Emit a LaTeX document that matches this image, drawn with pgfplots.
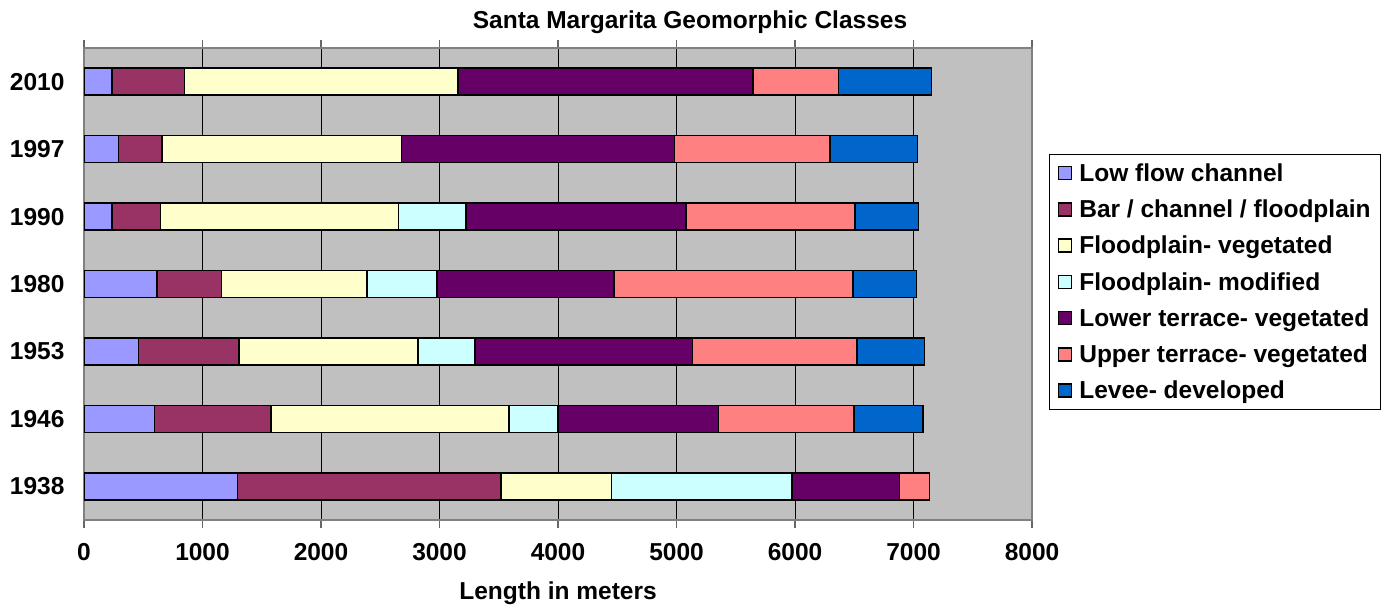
\documentclass[border=0pt]{standalone}
\usepackage{fontspec}
\setmainfont{Liberation Sans}
\usepackage{pgfplots}
\usepackage{pgfplotstable}
\pgfplotsset{compat=1.18}

\definecolor{lowflow}{HTML}{9999FF}
\definecolor{barch}{HTML}{993366}
\definecolor{fpveg}{HTML}{FFFFCC}
\definecolor{fpmod}{HTML}{CCFFFF}
\definecolor{lowter}{HTML}{660066}
\definecolor{upter}{HTML}{FF8080}
\definecolor{levee}{HTML}{0066CC}
\definecolor{plotbg}{HTML}{C0C0C0}

% y: 0 = 1938 ... 6 = 2010
\pgfplotstableread{
y low bar fveg fmod lower upper levee
0 1294 2224 935 1523 904 253 0
1 593 985 2010 411 1354 1146 582
2 460 847 1510 484 1833 1388 571
3 615 544 1230 588 1495 2018 535
4 238 408 2010 566 1856 1427 539
5 291 366 2022 0 2302 1315 738
6 238 611 2308 0 2487 722 784
}\geodata

\newcommand{\chartfont}{\fontsize{24.5}{29}\selectfont\bfseries}

\begin{document}
\begin{tikzpicture}
\useasboundingbox (0,0) rectangle (1396pt,607pt);
\node[font=\chartfont] at (690pt,585pt) {Santa Margarita Geomorphic Classes};
\begin{axis}[
    at={(84pt,87pt)}, anchor=south west,
    width=948pt, height=472pt, scale only axis,
    xbar stacked, bar width=0.4,
    xmin=0, xmax=8000, ymin=-0.5, ymax=6.5,
    xtick={0,1000,...,8000},
    ytick={0,...,6},
    yticklabels={1938,1946,1953,1980,1990,1997,2010},
    ytick style={draw=none},
    extra y ticks={-0.5,0.5,...,6.5},
    extra y tick labels={},
    extra y tick style={tick style={draw=gray!80!black, line width=1.5pt}},
    xtick style={draw=gray!80!black, line width=1.5pt},
    tick align=outside, major tick length=8pt,
    xmajorgrids, major grid style={black, line width=1pt},
    axis background/.style={fill=plotbg},
    axis line style={gray, line width=1.5pt},
    /pgf/number format/assume math mode=true,
    /pgf/number format/set thousands separator={},
    ticklabel style={font=\chartfont},
    xticklabel style={yshift=-12pt},
    yticklabel style={xshift=-8pt},
    xlabel={Length in meters},
    xlabel style={font=\chartfont, at={(axis description cs:0.5,-0.156)}, anchor=center},
    legend style={at={(1.018,0.7754)}, anchor=north west, draw=black, line width=1pt,
        font=\chartfont, row sep=13pt, inner xsep=8pt, inner ysep=7pt},
    legend cell align=left,
    legend image code/.code={\draw[#1, line width=1.5pt] (0pt,-6.5pt) rectangle (13pt,6.5pt);
        \path[draw=none, fill=none] (0pt,0pt) -- (19pt,0pt);},
    every axis plot/.append style={draw=black, line width=1.5pt},
]
\addplot[fill=lowflow] table[x=low, y=y] {\geodata};
\addplot[fill=barch] table[x=bar, y=y] {\geodata};
\addplot[fill=fpveg] table[x=fveg, y=y] {\geodata};
\addplot[fill=fpmod] table[x=fmod, y=y] {\geodata};
\addplot[fill=lowter] table[x=lower, y=y] {\geodata};
\addplot[fill=upter] table[x=upper, y=y] {\geodata};
\addplot[fill=levee] table[x=levee, y=y] {\geodata};
\legend{Low flow channel, Bar / channel / floodplain, Floodplain- vegetated, Floodplain- modified, Lower terrace- vegetated, Upper terrace- vegetated, Levee- developed}
\end{axis}
\end{tikzpicture}
\end{document}
